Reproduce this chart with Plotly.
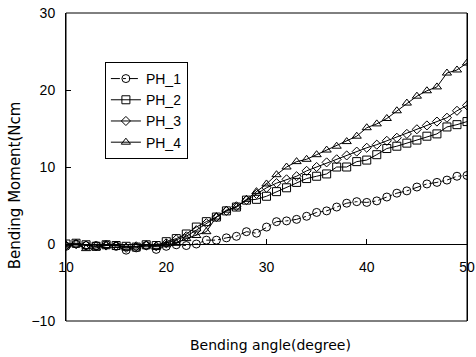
import plotly.graph_objects as go

angles = list(range(10, 51))

ph1 = [-0.3, 0.0, -0.2, -0.2, -0.1, -0.3, -0.8, -0.5, -0.2, -0.7,
       -0.3, -0.1, -0.2, 0.0, 0.5, 0.5, 0.8, 1.0, 1.6, 1.4,
       2.2, 2.9, 3.0, 3.2, 3.6, 4.1, 4.3, 4.8, 5.3, 5.5,
       5.4, 5.6, 6.1, 6.6, 6.9, 7.4, 7.8, 8.0, 8.3, 8.8, 8.9]
ph2 = [0.0, 0.1, -0.1, -0.3, -0.1, -0.2, -0.3, -0.4, -0.1, -0.2,
       0.3, 0.7, 1.3, 2.2, 2.9, 3.5, 4.3, 4.8, 5.7, 5.8,
       6.2, 6.8, 7.3, 8.0, 8.5, 8.8, 9.1, 10.0, 10.0, 10.7,
       10.9, 11.6, 12.4, 12.7, 13.1, 13.5, 14.0, 14.3, 15.2, 15.5, 15.9]
ph3 = [-0.2, 0.0, -0.2, -0.3, -0.2, -0.2, -0.5, -0.3, -0.2, -0.3,
       0.1, 0.6, 1.0, 1.8, 2.7, 3.5, 4.3, 4.9, 5.7, 6.5,
       7.3, 7.9, 8.4, 8.8, 9.5, 10.0, 10.6, 11.0, 11.5, 12.0,
       12.5, 12.9, 13.4, 13.8, 14.3, 14.9, 15.4, 15.9, 16.4, 17.3, 18.0]
ph4 = [-0.1, 0.0, -0.6, -0.5, -0.2, -0.2, -0.4, -0.4, -0.1, -0.3,
       -0.1, 0.1, 0.7, 1.1, 1.6, 3.5, 4.4, 4.8, 5.8, 6.8,
       7.8, 9.0, 10.0, 10.7, 11.0, 11.6, 12.2, 12.7, 13.3, 14.0,
       15.1, 15.6, 16.3, 17.3, 18.3, 19.2, 19.9, 20.4, 22.2, 22.6, 23.5]

series = [
    ("PH_1", ph1, "circle-open", "dashdot", 8),
    ("PH_2", ph2, "square-open", "solid", 8),
    ("PH_3", ph3, "diamond-open", "solid", 7),
    ("PH_4", ph4, "triangle-up-open", "solid", 8),
]

FONT = "Liberation Sans, Arial, sans-serif"
TFONT = "DejaVu Sans, sans-serif"

fig = go.Figure()
for name, vals, sym, dash, size in series:
    fig.add_trace(go.Scatter(
        x=angles, y=vals, name=name, mode="lines+markers", legendgroup=name,
        line=dict(color="black", width=1, dash=dash),
        marker=dict(symbol=sym, size=size, color="black",
                    line=dict(color="black", width=1)),
    ))

fig.update_layout(
    width=476, height=357,
    margin=dict(l=66, r=9, t=13, b=36, autoexpand=False),
    paper_bgcolor="white", plot_bgcolor="white",
    font=dict(family=FONT, size=14, color="black"),
    showlegend=True,
    legend=dict(x=0.097, y=0.841, xanchor="left", yanchor="top",
                bordercolor="black", borderwidth=1, bgcolor="white",
                font=dict(size=14), itemwidth=30, traceorder="grouped",
                tracegroupgap=0),
    xaxis=dict(range=[10, 50], dtick=10, showgrid=False, zeroline=False,
               showline=True, linecolor="black", linewidth=1,
               ticks="inside", ticklen=5, tickcolor="black",
               anchor="free", position=0.25, automargin=False,
               ticklabelstandoff=10, ticklabeloverflow="allow"),
    yaxis=dict(range=[-10, 30], dtick=10, showgrid=False, zeroline=False,
               showline=True, linecolor="black", linewidth=1, mirror=True,
               ticks="inside", ticklen=5, tickcolor="black", automargin=False,
               ticklabelstandoff=7, ticklabeloverflow="allow"),
    shapes=[dict(type="rect", xref="paper", yref="paper", x0=0, x1=1, y0=0, y1=1,
                 line=dict(color="black", width=1), layer="above")],
    annotations=[
        dict(text="Bending angle(degree)", xref="paper", yref="paper",
             x=0.509, y=-0.078, xanchor="center", yanchor="middle",
             showarrow=False, font=dict(family=TFONT, size=14)),
        dict(text="Bending Moment(Ncm", xref="paper", yref="paper",
             x=-0.125, y=0.44, xanchor="center", yanchor="middle",
             textangle=-90, showarrow=False, font=dict(family=TFONT, size=15)),
    ],
)

fig.write_html("out.html", config={"displayModeBar": False},
               post_script="document.body.style.margin='0px';")
